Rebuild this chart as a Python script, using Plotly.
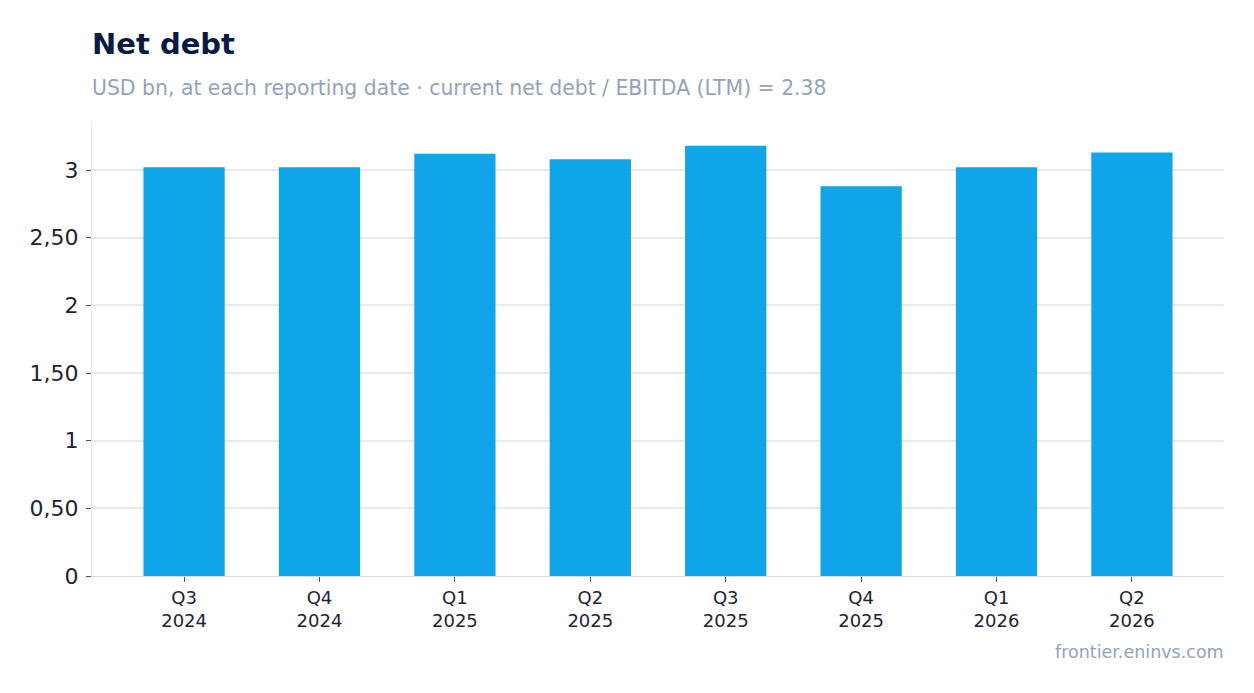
import plotly.graph_objects as go

quarters = ["Q3<br>2024", "Q4<br>2024", "Q1<br>2025", "Q2<br>2025",
            "Q3<br>2025", "Q4<br>2025", "Q1<br>2026", "Q2<br>2026"]
net_debt = [3.02, 3.02, 3.12, 3.08, 3.18, 2.88, 3.02, 3.13]

y_ticks = [0, 0.5, 1, 1.5, 2, 2.5, 3]
y_labels = ["0", "0,50", "1", "1,50", "2", "2,50", "3"]

fig = go.Figure()

fig.add_trace(
    go.Bar(
        x=quarters,
        y=net_debt,
        width=0.6,
        marker=dict(color="#10a5e8", line=dict(width=0)),
        hovertemplate="%{y:.2f}<extra></extra>",
    )
)

# page body adds 8px, so margins are shifted to compensate
fig.update_layout(
    width=1254,
    height=693,
    margin=dict(l=84, r=38, t=115, b=125),
    paper_bgcolor="white",
    plot_bgcolor="white",
    font=dict(family="DejaVu Sans", color="#1e2433"),
    showlegend=False,
    title=dict(
        text="<b>Net debt</b>",
        x=84 / 1254, xanchor="left",
        y=1 - 36 / 693, yanchor="middle",
        font=dict(size=29, color="#0b1a42"),
    ),
    xaxis=dict(
        showline=True, linecolor="#d5dbe5", linewidth=1,
        ticks="outside", ticklen=5, tickcolor="#4a5163",
        tickfont=dict(size=18, color="#1e2433"),
        showgrid=False,
        range=[-0.68, 7.68],
    ),
    yaxis=dict(
        showline=True, linecolor="#e5e9f0", linewidth=1,
        ticks="outside", ticklen=5, tickcolor="#4a5163",
        tickvals=y_ticks, ticktext=y_labels,
        tickfont=dict(size=22, color="#1e2433"),
        ticklabelstandoff=3,
        gridcolor="#e5e9f0", gridwidth=1.5,
        zeroline=False,
        rangemode="tozero",
    ),
    annotations=[
        dict(
            text="USD bn, at each reporting date · current net debt / EBITDA (LTM) = 2.38",
            xref="paper", yref="paper",
            x=0, y=1 + 35 / 453, xanchor="left", yanchor="middle",
            xshift=-2,
            showarrow=False,
            font=dict(size=20.4, color="#94a3b8"),
        ),
        dict(
            text="frontier.eninvs.com",
            xref="paper", yref="paper",
            x=1, y=-76 / 453, xanchor="right", yanchor="middle",
            xshift=2,
            showarrow=False,
            font=dict(size=17.5, color="#94a3b8"),
        ),
    ],
)

fig.write_html("out.html")
